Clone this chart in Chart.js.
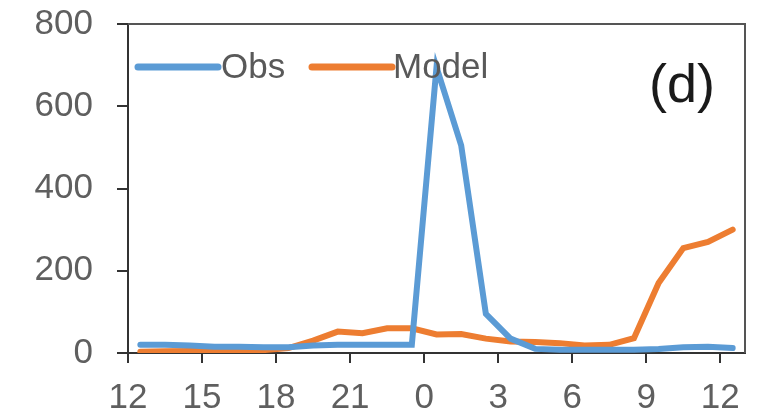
<!DOCTYPE html>
<html lang="en">
<head>
    <meta charset="UTF-8">
    <title>Obs vs Model (d)</title>
    <script src="https://cdn.jsdelivr.net/npm/chart.js"></script>
    <style>
        body { margin: 0; background: #fff; overflow: hidden; }
    </style>
</head>
<body>
    <canvas id="chart" width="761" height="411"></canvas>
    <script>
        // hours after 12:00 on day one
        const hours = [0.5, 1.5, 2.5, 3.5, 4.5, 5.5, 6.5, 7.5, 8.5, 9.5, 10.5, 11.5, 12.5,
                       13.5, 14.5, 15.5, 16.5, 17.5, 18.5, 19.5, 20.5, 21.5, 22.5, 23.5, 24.5];
        const obsValues = [20, 20, 18, 15, 15, 14, 14, 18, 20, 20, 20, 20, 695,
                           505, 95, 35, 10, 8, 8, 8, 8, 10, 14, 15, 12];
        const modelValues = [3, 4, 5, 6, 6, 7, 12, 30, 52, 48, 60, 60, 45,
                             46, 35, 28, 27, 24, 18, 20, 36, 170, 255, 270, 300];
        const tickHours = [0, 3, 6, 9, 12, 15, 18, 21, 24];
        const tickLabels = ['12', '15', '18', '21', '0', '3', '6', '9', '12'];

        const toPoints = vals => hours.map((h, i) => ({ x: h, y: vals[i] }));
        const font = '"Liberation Sans", Arial, sans-serif';

        const framePlugin = {
            id: 'frame',
            afterDraw(chart) {
                const ctx = chart.ctx;
                const a = chart.chartArea;
                ctx.save();
                ctx.strokeStyle = '#555';
                ctx.lineWidth = 2;
                ctx.beginPath();
                ctx.moveTo(a.left, a.top);
                ctx.lineTo(a.right, a.top);
                ctx.lineTo(a.right, a.bottom);
                ctx.stroke();

                // legend inside plot
                const items = [
                    { ds: chart.data.datasets[0], x0: 138, x1: 218, tx: 221 },
                    { ds: chart.data.datasets[1], x0: 312, x1: 392, tx: 393 }
                ];
                ctx.font = '35px ' + font;
                ctx.textBaseline = 'alphabetic';
                ctx.textAlign = 'left';
                items.forEach(it => {
                    ctx.strokeStyle = it.ds.borderColor;
                    ctx.lineWidth = 7;
                    ctx.lineCap = 'round';
                    ctx.beginPath();
                    ctx.moveTo(it.x0, 67);
                    ctx.lineTo(it.x1, 67);
                    ctx.stroke();
                    ctx.fillStyle = '#595959';
                    ctx.fillText(it.ds.label, it.tx, 78);
                });

                ctx.font = '54px ' + font;
                ctx.fillStyle = '#1a1a1a';
                ctx.textAlign = 'center';
                ctx.fillText('(d)', 682, 102);
                ctx.restore();
            }
        };

        new Chart(document.getElementById('chart').getContext('2d'), {
            type: 'line',
            data: {
                datasets: [{
                    label: 'Obs',
                    data: toPoints(obsValues),
                    borderColor: '#5B9BD5',
                    borderWidth: 6,
                    borderCapStyle: 'round',
                    pointRadius: 0,
                    tension: 0
                }, {
                    label: 'Model',
                    data: toPoints(modelValues),
                    borderColor: '#ED7D31',
                    borderWidth: 6,
                    borderCapStyle: 'round',
                    pointRadius: 0,
                    tension: 0
                }]
            },
            options: {
                responsive: false,
                animation: false,
                devicePixelRatio: 1,
                layout: { padding: { top: 24, right: 16, left: 0, bottom: 0 } },
                plugins: { legend: { display: false }, tooltip: { enabled: false } },
                scales: {
                    x: {
                        type: 'linear',
                        min: 0,
                        max: 25,
                        afterBuildTicks: s => { s.ticks = tickHours.map(v => ({ value: v })); },
                        afterFit: s => { s.height = 58; s.paddingLeft = 0; s.paddingRight = 0; },
                        grid: { drawOnChartArea: false, tickLength: 10, color: '#333', lineWidth: 2 },
                        border: { color: '#333', width: 2 },
                        ticks: {
                            autoSkip: false,
                            maxRotation: 0,
                            padding: 14,
                            color: '#5f5f5f',
                            font: { size: 35, family: font },
                            callback: (v) => tickLabels[tickHours.indexOf(v)]
                        }
                    },
                    y: {
                        min: 0,
                        max: 800,
                        afterFit: s => { s.width = 128; s.paddingTop = 0; s.paddingBottom = 0; },
                        grid: { drawOnChartArea: false, tickLength: 11, color: '#333', lineWidth: 2 },
                        border: { color: '#333', width: 2 },
                        ticks: {
                            stepSize: 200,
                            padding: 24,
                            color: '#5f5f5f',
                            font: { size: 35, family: font }
                        }
                    }
                }
            },
            plugins: [framePlugin]
        });
    </script>
</body>
</html>
